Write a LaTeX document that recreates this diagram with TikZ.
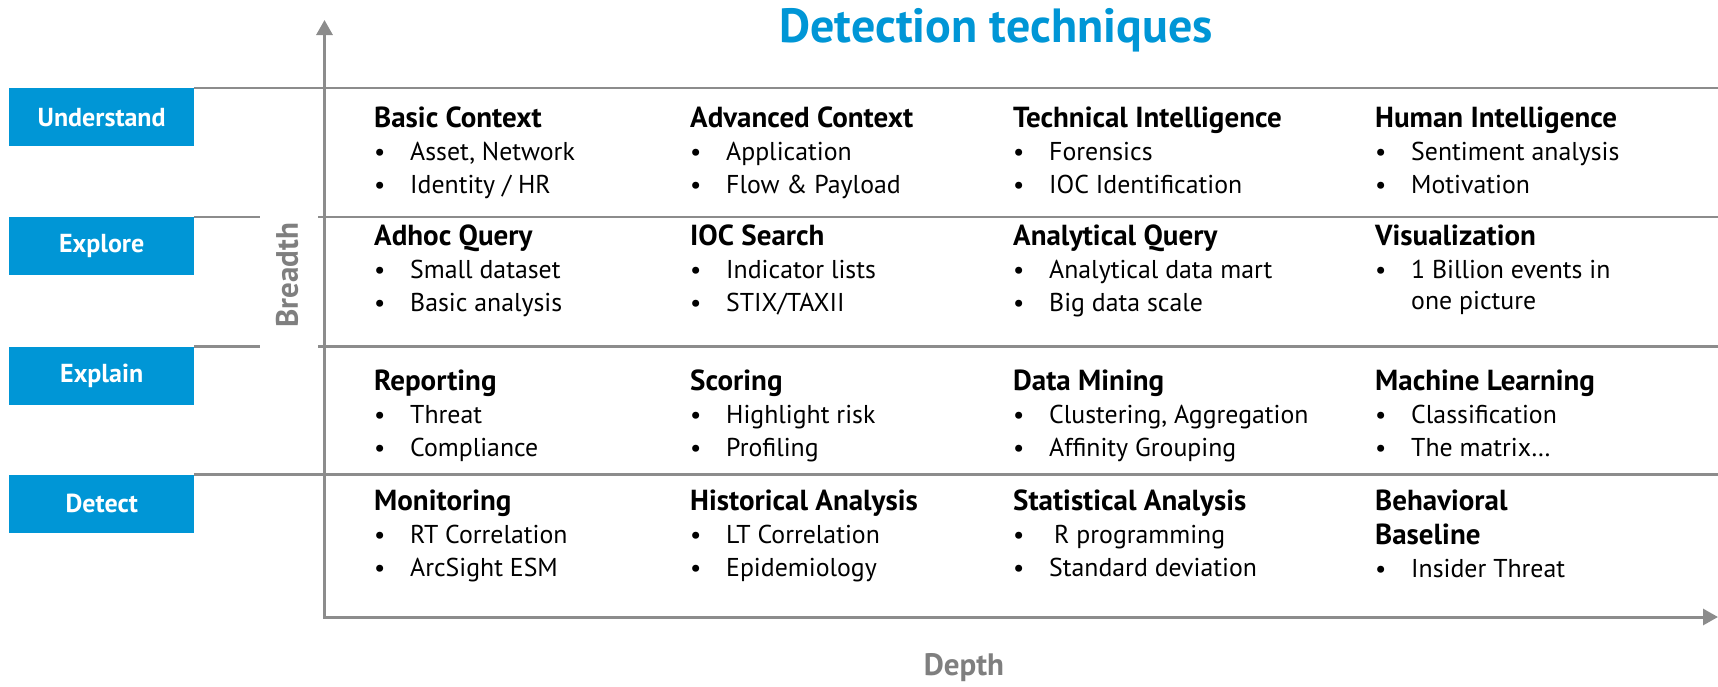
\documentclass[tikz,border=0pt]{standalone}
\usepackage{fontspec}
\setmainfont{PT Sans}
\usetikzlibrary{arrows.meta}
\definecolor{hpblue}{HTML}{0096D6}
\definecolor{axisgray}{HTML}{8C8C8C}
\definecolor{labelgray}{HTML}{7F7F7F}
\newcommand\tcell[6]{% name, x, y, heading, item1, item2
  \node[head] (#1h) at (#2,#3) {#4};
  \node[bul] (#1ba) at (#2,#3+33) {•};
  \node[item] (#1a) at (#2+36,#3+33) {#5};
  \node[bul] (#1bb) at (#2,#3+66) {•};
  \node[item] (#1b) at (#2+36,#3+66) {#6};
}
\begin{document}
\begin{tikzpicture}[x=1pt,y=-1pt,
  rowbox/.style={fill=hpblue, minimum width=185pt, minimum height=58pt, inner sep=0pt, text=white, font=\fontsize{26}{30}\selectfont\bfseries},
  gridline/.style={draw=axisgray, line width=2.5pt},
  axisline/.style={draw=axisgray, line width=3pt},
  head/.style={anchor=base west, inner sep=0pt, font=\fontsize{29}{34}\selectfont\bfseries},
  item/.style={anchor=base west, inner sep=0pt, font=\fontsize{25.8}{32}\selectfont},
  bul/.style={anchor=base west, inner sep=0pt, font=\fontsize{25}{32}\selectfont},
  axislabel/.style={text=labelgray, font=\fontsize{31}{36}\selectfont\bfseries, inner sep=0pt},
  titlestyle/.style={text=hpblue, font=\fontsize{48}{54}\selectfont\bfseries, inner sep=0pt, anchor=base west}
]
\useasboundingbox (0,0) rectangle (1718,686);

% title
\node[titlestyle] (title) at (779,42) {Detection techniques};

% row label boxes
\node[rowbox, anchor=north west] (und) at (9,88) {Understand};
\node[rowbox, anchor=north west] (exp) at (9,217) {Explore};
\node[rowbox, anchor=north west] (expl) at (9,346.5) {Explain};
\node[rowbox, anchor=north west] (det) at (9,474.5) {Detect};

% grid lines
\coordinate (r1) at (1718,88);
\coordinate (r2) at (1718,217);
\coordinate (r3) at (1718,346.5);
\coordinate (r4) at (1718,474.5);
\coordinate (g2a) at (260,217);
\coordinate (g2b) at (318,217);
\coordinate (g3a) at (260,346.5);
\coordinate (g3b) at (318,346.5);
\draw[gridline] (und.north east) -- (r1);
\draw[gridline] (exp.north east) -- (g2a);
\draw[gridline] (g2b) -- (r2);
\draw[gridline] (expl.north east) -- (g3a);
\draw[gridline] (g3b) -- (r3);
\draw[gridline] (det.north east) -- (r4);

% axes
\coordinate (origin) at (324.5,617);
\coordinate (ytip) at (324.5,20);
\coordinate (xtip) at (1718,617);
\draw[axisline, {Triangle[length=15pt,width=16pt]}-{Triangle[length=15pt,width=16pt]}] (ytip) -- (origin) -- (xtip);

\node[axislabel, rotate=90] (breadth) at (287,275) {Breadth};
\node[axislabel] (depth) at (964,668) {Depth};

% cells
\tcell{a1}{374}{127}{Basic Context}{Asset, Network}{Identity / HR}
\tcell{a2}{690}{127}{Advanced Context}{Application}{Flow \& Payload}
\tcell{a3}{1013}{127}{Technical Intelligence}{Forensics}{IOC Identification}
\tcell{a4}{1375}{127}{Human Intelligence}{Sentiment analysis}{Motivation}

\tcell{b1}{374}{245}{Adhoc Query}{Small dataset}{Basic analysis}
\tcell{b2}{690}{245}{IOC Search}{Indicator lists}{STIX/TAXII}
\tcell{b3}{1013}{245}{Analytical Query}{Analytical data mart}{Big data scale}
\node[head] (b4h) at (1375,245) {Visualization};
\node[bul] (b4ba) at (1375,278) {•};
\node[item] (b4a) at (1411,278) {1 Billion events in};
\node[item] (b4b) at (1411,309) {one picture};

\tcell{c1}{374}{390}{Reporting}{Threat}{Compliance}
\tcell{c2}{690}{390}{Scoring}{Highlight risk}{Profiling}
\tcell{c3}{1013}{390}{Data Mining}{Clustering, Aggregation}{Affinity Grouping}
\tcell{c4}{1375}{390}{Machine Learning}{Classification}{The matrix…}

\tcell{d1}{374}{510}{Monitoring}{RT Correlation}{ArcSight ESM}
\tcell{d2}{690}{510}{Historical Analysis}{LT Correlation}{Epidemiology}
\tcell{d3}{1013}{510}{Statistical Analysis}{\hspace{5pt}R programming}{Standard deviation}
\node[head] (d4h) at (1375,510) {Behavioral};
\node[head] (d4h2) at (1375,544) {Baseline};
\node[bul] (d4ba) at (1375,577) {•};
\node[item] (d4a) at (1411,577) {Insider Threat};
\end{tikzpicture}
\end{document}
